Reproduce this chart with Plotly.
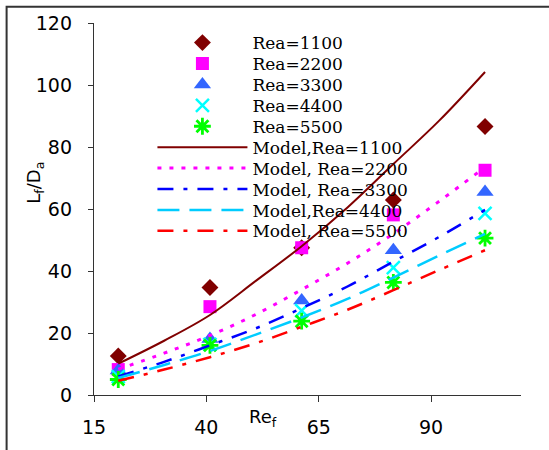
import plotly.graph_objects as go

# ---- data ----
re_f = [20.4, 40.8, 61.2, 81.6, 102.0]
rea1100 = [12.6, 34.7, 47.5, 62.9, 86.6]
rea2200 = [8.2, 28.5, 47.5, 58.1, 72.5]
rea3300 = [7.9, 18.1, 30.5, 46.7, 65.5]
rea4400 = [5.9, 16.3, 27.2, 41.1, 58.6]
rea5500 = [5.0, 16.0, 23.8, 36.3, 50.6]

model_x = [20.4, 30.6, 40.8, 51.0, 61.2, 71.4, 81.6, 91.8, 102.0]
m1100 = [10.1, 17.5, 25.8, 36.8, 48.0, 60.5, 74.5, 88.5, 104.2]
m2200 = [8.3, 13.5, 19.2, 26.0, 34.0, 42.5, 52.0, 62.5, 73.5]
m3300 = [6.0, 10.7, 16.0, 21.5, 28.0, 35.0, 43.0, 51.0, 59.7]
m4400 = [5.5, 9.7, 14.2, 19.5, 25.0, 31.0, 37.9, 45.0, 52.0]
m5500 = [4.6, 8.2, 12.2, 16.7, 22.0, 27.5, 33.8, 40.3, 46.7]

x_ticks = [15, 40, 65, 90]
y_ticks = [0, 20, 40, 60, 80, 100, 120]

# ---- layout geometry (pixels) ----
W, H = 549, 450
L, R, T, B = 93.5, 521.0, 21.5, 396.7
pw, ph = R - L, B - T


def px_x(p):
    return (p - L) / pw


def px_y(p):
    return (B - p) / ph


fig = go.Figure()

marker_series = [
    ("Rea=1100", rea1100, dict(symbol="diamond", size=13, color="#800000")),
    ("Rea=2200", rea2200, dict(symbol="square", size=13, color="#FF00FF")),
    ("Rea=3300", rea3300, dict(symbol="triangle-up", size=15, color="#3366FF")),
    ("Rea=4400", rea4400, dict(symbol="x-thin-open", size=13, color="#00FFFF",
                               line=dict(width=2.5, color="#00FFFF"))),
    ("Rea=5500", rea5500, dict(symbol="asterisk-open", size=14, color="#00FF00",
                               line=dict(width=2.8, color="#00FF00"))),
]

line_series = [
    ("Model,Rea=1100", m1100, dict(color="#800000", width=2, dash="solid")),
    ("Model, Rea=2200", m2200, dict(color="#FF00FF", width=3, dash="4px,8px")),
    ("Model, Rea=3300", m3300, dict(color="#0000FF", width=2.5, dash="16px,10px,4px,10px")),
    ("Model,Rea=4400", m4400, dict(color="#00CCFF", width=2.5, dash="22px,10px")),
    ("Model, Rea=5500", m5500, dict(color="#FF0000", width=2.5, dash="16px,10px,4px,10px")),
]

row0 = 41.7
rowgap = 21.1
legend_left_px = 152.0
legend_layouts = {}

idx = 0
for name, vals, mk in marker_series:
    lg = "legend" if idx == 0 else f"legend{idx + 1}"
    fig.add_trace(go.Scatter(x=re_f, y=vals, mode="markers", name=name,
                             marker=mk, legend=lg))
    legend_layouts[lg] = row0 + rowgap * idx
    idx += 1

for name, vals, ln in line_series:
    lg = f"legend{idx + 1}"
    fig.add_trace(go.Scatter(x=model_x, y=vals, mode="lines", name=name,
                             line=dict(shape="spline", **ln), legend=lg))
    legend_layouts[lg] = row0 + rowgap * idx
    idx += 1

layout_legends = {}
for lg, yc in legend_layouts.items():
    layout_legends[lg] = dict(
        x=px_x(legend_left_px), xanchor="left",
        y=px_y(yc), yanchor="middle",
        bgcolor="rgba(0,0,0,0)", borderwidth=0,
        font=dict(family="DejaVu Serif", size=17, color="black"),
        itemwidth=90, tracegroupgap=0,
    )

axis_font = dict(family="DejaVu Sans", size=19, color="black")

fig.update_layout(
    width=W, height=H,
    margin=dict(l=L, r=W - R, t=T, b=H - B, pad=0),
    paper_bgcolor="white", plot_bgcolor="white",
    showlegend=True,
    xaxis=dict(range=[15, 110], tickvals=x_ticks, ticks="outside", ticklen=6,
               tickcolor="#333", showline=True, linecolor="#333", linewidth=1.3,
               showgrid=False, zeroline=False, tickfont=axis_font,
               ticklabelstandoff=9),
    yaxis=dict(range=[0, 120], tickvals=y_ticks, ticks="outside", ticklen=5,
               tickcolor="#333", showline=True, linecolor="#333", linewidth=1.3,
               showgrid=False, zeroline=False, tickfont=axis_font,
               ticklabelstandoff=12),
    annotations=[
        dict(text="L<sub>f</sub>/D<sub>a</sub>", xref="paper", yref="paper",
             x=px_x(35), y=px_y(183), xanchor="center", yanchor="middle",
             textangle=-90, showarrow=False,
             font=dict(family="DejaVu Sans", size=18, color="black")),
        dict(text="Re<sub>f</sub>", xref="paper", yref="paper",
             x=px_x(263), y=px_y(420), xanchor="center", yanchor="middle",
             showarrow=False,
             font=dict(family="DejaVu Sans", size=18, color="black")),
    ],
    shapes=[
        dict(type="rect", xref="paper", yref="paper",
             x0=px_x(6), x1=px_x(580), y0=px_y(480), y1=px_y(5),
             line=dict(color="#333", width=2), fillcolor="rgba(0,0,0,0)",
             layer="below"),
    ],
    **layout_legends,
)

fig.write_html("out.html")
